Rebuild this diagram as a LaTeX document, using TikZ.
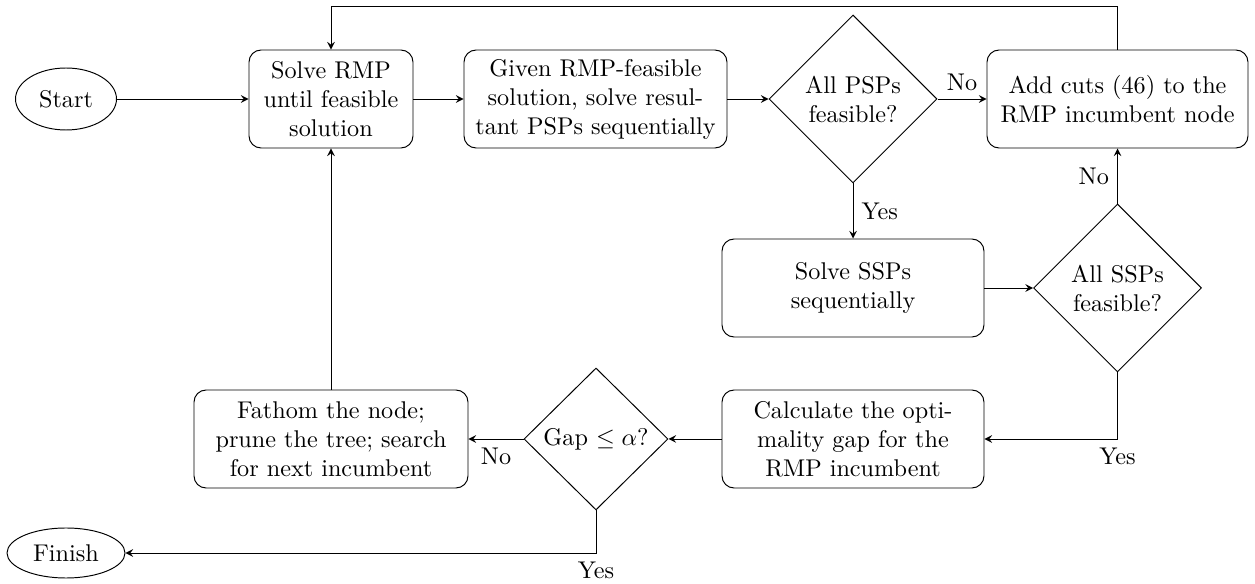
\documentclass[tikz,border=0pt]{standalone}
\usetikzlibrary{shapes.geometric,arrows}
\newdimen\pxu
\pxu=0.4132pt
\begin{document}
\begin{tikzpicture}[x=\pxu, y=-\pxu,
  box/.style={draw, rounded corners=5pt, align=center, minimum height=98\pxu, inner sep=2pt},
  decision/.style={diamond, draw, aspect=1, inner sep=0pt, align=center},
  term/.style={ellipse, draw, inner sep=0pt},
  flow/.style={-stealth}]
\useasboundingbox (0,0) rectangle (1255,584);

% nodes
\node[term, minimum width=101\pxu, minimum height=62\pxu] (start) at (66,99) {Start};
\node[box, minimum width=164\pxu] (rmp) at (331,99) {Solve RMP\\until feasible\\solution};
\node[box, minimum width=263\pxu] (psp) at (595.5,99) {Given RMP-feasible\\solution, solve resul-\\tant PSPs sequentially};
\node[decision, minimum width=168\pxu, minimum height=168\pxu] (pspok) at (853,99) {All PSPs\\feasible?};
\node[box, minimum width=261\pxu] (cuts) at (1117.5,99) {Add cuts (46) to the\\RMP incumbent node};
\node[box, minimum width=262\pxu] (ssp) at (853,288) {Solve SSPs\\sequentially};
\node[decision, minimum width=168\pxu, minimum height=168\pxu] (sspok) at (1117.5,288) {All SSPs\\feasible?};
\node[box, minimum width=262\pxu] (gap) at (853,439) {Calculate the opti-\\mality gap for the\\RMP incumbent};
\node[decision, minimum width=144\pxu, minimum height=142\pxu] (gapok) at (596,439) {Gap $\leq \alpha$?};
\node[box, minimum width=274\pxu] (fathom) at (331,439) {Fathom the node;\\prune the tree; search\\for next incumbent};
\node[term, minimum width=118\pxu, minimum height=50\pxu] (finish) at (66,553) {Finish};
\coordinate (loop) at (0,6);

% connectors
\draw[flow] (start) -- (rmp);
\draw[flow] (rmp) -- (psp);
\draw[flow] (psp) -- (pspok);
\draw[flow] (pspok) -- node[above] {No} (cuts);
\draw[flow] (pspok) -- node[right] {Yes} (ssp);
\draw[flow] (ssp) -- (sspok);
\draw[flow] (sspok) -- node[left] {No} (cuts);
\draw[flow] (sspok.south) |- node[pos=0.5, below] {Yes} (gap.east);
\draw[flow] (gap) -- (gapok);
\draw[flow] (gapok) -- node[below] {No} (fathom);
\draw[flow] (gapok.south) |- node[pos=0.5, below] {Yes} (finish.east);
\draw[flow] (fathom) -- (rmp);
\draw[flow] (cuts.north) -- (cuts.north |- loop) -| (rmp.north);
\end{tikzpicture}
\end{document}
